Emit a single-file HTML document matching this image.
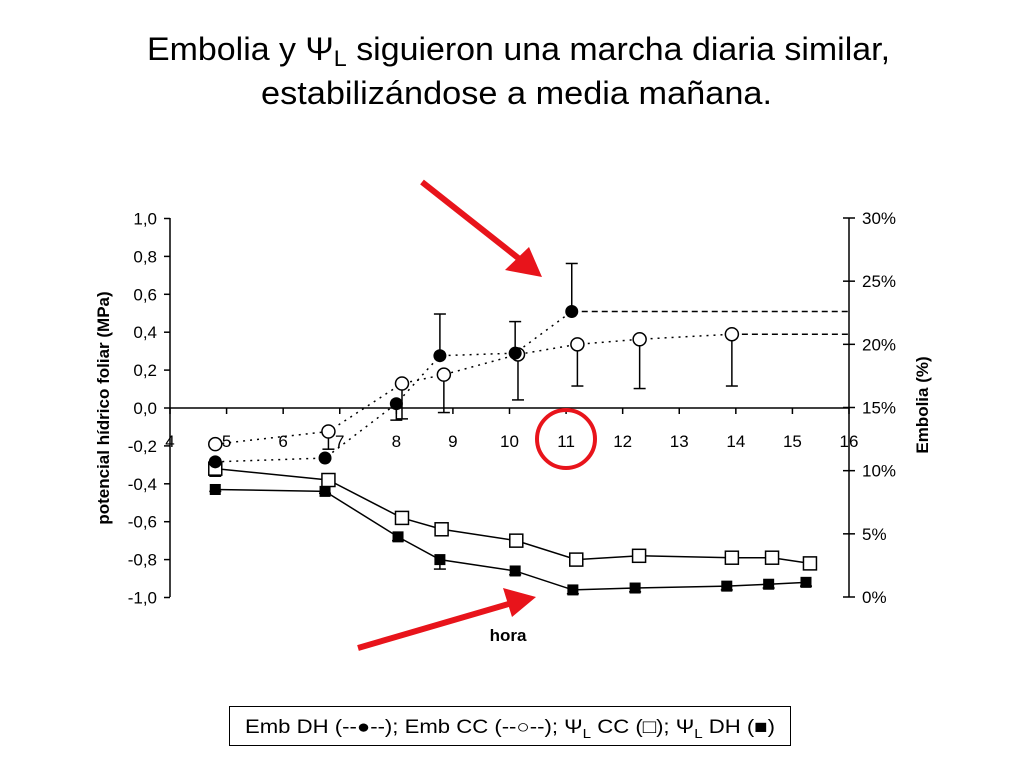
<!DOCTYPE html>
<html><head><meta charset="utf-8"><style>
body{margin:0;background:#fff;}
svg{display:block;font-family:"Liberation Sans",Arial,sans-serif;}
</style></head><body>
<svg id="c" width="1024" height="768" viewBox="0 0 1024 768">
<text x="147" y="60" font-size="32" textLength="743" lengthAdjust="spacingAndGlyphs">Embolia y Ψ<tspan font-size="22" dy="6">L</tspan><tspan dy="-6"> siguieron una marcha diaria similar,</tspan></text>
<text x="261" y="104" font-size="32" textLength="511" lengthAdjust="spacingAndGlyphs">estabilizándose a media mañana.</text>
<g id="axes"></g>
<g id="marks"></g>
<text transform="translate(109,408) rotate(-90)" text-anchor="middle" font-size="17" font-weight="bold">potencial hídrico foliar (MPa)</text>
<text transform="translate(928,405) rotate(-90)" text-anchor="middle" font-size="17" font-weight="bold">Embolia (%)</text>
<text x="508" y="641" text-anchor="middle" font-size="17" font-weight="bold">hora</text>
<g>
<line x1="422" y1="182" x2="522" y2="261" stroke="#e8141b" stroke-width="6"/>
<polygon points="542,277 505,270 529,247" fill="#e8141b"/>
</g>
<g>
<line x1="358" y1="648" x2="512" y2="603" stroke="#e8141b" stroke-width="6"/>
<polygon points="536,597 503,588 512,617" fill="#e8141b"/>
</g>
<circle cx="566" cy="439" r="29" fill="none" stroke="#e8141b" stroke-width="4"/>
<rect x="229.5" y="706.5" width="561" height="39" fill="#fff" stroke="#000" stroke-width="1"/>
<text x="510" y="733" text-anchor="middle" font-size="19" textLength="530" lengthAdjust="spacingAndGlyphs">Emb DH (--●--); Emb CC (--○--); Ψ<tspan font-size="13" dy="5">L</tspan><tspan dy="-5"> CC (□); Ψ</tspan><tspan font-size="13" dy="5">L</tspan><tspan dy="-5"> DH (■)</tspan></text>
</svg>
<script>
const hours = [4.8, 6.8, 8.1, 8.8, 10.12, 11.18, 12.29, 13.93, 14.64, 15.31];
const hoursDH = [4.8, 6.74, 8.03, 8.77, 10.1, 11.12, 12.22, 13.84, 14.58, 15.24];
const psiCC = [-0.32, -0.38, -0.58, -0.64, -0.70, -0.80, -0.78, -0.79, -0.79, -0.82];
const psiCCerr = [0.04, 0.02, 0.02, 0.03, 0.02, 0.01, 0.01, 0.02, 0.01, 0.02];
const psiDH = [-0.43, -0.44, -0.68, -0.80, -0.86, -0.96, -0.95, -0.94, -0.93, -0.92];
const psiDHerr = [0.01, 0.01, 0.02, 0.05, 0.02, 0.02, 0.02, 0.02, 0.02, 0.02];
const embHours = [4.8, 6.74, 8.0, 8.77, 10.1, 11.1];
const embDH = [10.7, 11.0, 15.3, 19.1, 19.3, 22.6];
const embDHerrUp = [0, 0, 0, 3.3, 2.5, 3.8];
const embDHerrDn = [0, 0, 1.3, 0, 0, 0];
const embCCHours = [4.8, 6.8, 8.1, 8.84, 10.15, 11.2, 12.3, 13.93];
const embCC = [12.1, 13.1, 16.9, 17.6, 19.2, 20.0, 20.4, 20.8];
const embCCerrDn = [0, 1.4, 2.8, 3.0, 3.6, 3.3, 3.9, 4.1];
const xTicks = [4,5,6,7,8,9,10,11,12,13,14,15,16];
const yTicks = [1.0,0.8,0.6,0.4,0.2,0.0,-0.2,-0.4,-0.6,-0.8,-1.0];
const rTicks = [30,25,20,15,10,5,0];

const NS='http://www.w3.org/2000/svg';
const X=h=>170+(h-4)*(679/12);
const Y=v=>408-v*189.5;
const R=p=>597-p*(379/30);
const ax=document.getElementById('axes'), mk=document.getElementById('marks');
function el(parent,tag,attrs){const e=document.createElementNS(NS,tag);for(const k in attrs)e.setAttribute(k,attrs[k]);parent.appendChild(e);return e;}

let e;
e=el(ax,'line',{x1:170,y1:218,x2:170,y2:597,stroke:'#000','stroke-width':1.5});


e=el(ax,'line',{x1:849,y1:218,x2:849,y2:597,stroke:'#000','stroke-width':1.5});


e=el(ax,'line',{x1:170,y1:408,x2:849,y2:408,stroke:'#000','stroke-width':1.5});


yTicks.forEach(v=>{
  el(ax,'line',{x1:164,y1:Y(v),x2:170,y2:Y(v),stroke:'#000','stroke-width':1.5});
  e=el(ax,'text',{x:157,y:Y(v)+6,'text-anchor':'end','font-size':17});
  e.textContent=v.toFixed(1).replace('.',',');
  
  
});
rTicks.forEach(v=>{
  el(ax,'line',{x1:843,y1:R(v),x2:855,y2:R(v),stroke:'#000','stroke-width':1.5});
  e=el(ax,'text',{x:862,y:R(v)+6,'font-size':17});
  e.textContent=v+'%';
  
  
});
xTicks.forEach(v=>{
  el(ax,'line',{x1:X(v),y1:408,x2:X(v),y2:414,stroke:'#000','stroke-width':1.5});
  e=el(ax,'text',{x:X(v),y:447,'text-anchor':'middle','font-size':17});
  e.textContent=v;
  
  
});

function poly(xs,ys,fx,fy,dash,name){
  const pts=xs.map((h,i)=>X(h)+','+fy(ys[i])).join(' ');
  const p=el(mk,'polyline',{points:pts,fill:'none',stroke:'#000','stroke-width':1.5});
  if(dash)p.setAttribute('stroke-dasharray',dash);
  
  
}
function ebar(x,y1,y2){
  el(mk,'line',{x1:x,y1:y1,x2:x,y2:y2,stroke:'#000','stroke-width':1.5});
  el(mk,'line',{x1:x-6,y1:y2,x2:x+6,y2:y2,stroke:'#000','stroke-width':1.5});
}
e=el(mk,'line',{x1:X(embHours[embHours.length-1]),y1:R(embDH[embDH.length-1]),x2:849,y2:R(embDH[embDH.length-1]),stroke:'#000','stroke-width':1.5,'stroke-dasharray':'6,4'});


e=el(mk,'line',{x1:X(embCCHours[embCCHours.length-1]),y1:R(embCC[embCC.length-1]),x2:849,y2:R(embCC[embCC.length-1]),stroke:'#000','stroke-width':1.5,'stroke-dasharray':'6,4'});



poly(hours,psiCC,X,Y,null,'psi-cc-line');
poly(hoursDH,psiDH,X,Y,null,'psi-dh-line');
poly(embHours,embDH,X,R,'2,5','emb-dh-line');
poly(embCCHours,embCC,X,R,'2,5','emb-cc-line');

hoursDH.forEach((h,i)=>{
  ebar(X(h),Y(psiDH[i]),Y(psiDH[i]-psiDHerr[i]));
  e=el(mk,'rect',{x:X(h)-5.5,y:Y(psiDH[i])-5.5,width:11,height:11,fill:'#000'});
  
  
});
hours.forEach((h,i)=>{
  ebar(X(h),Y(psiCC[i]),Y(psiCC[i]-psiCCerr[i]));
  e=el(mk,'rect',{x:X(h)-6.5,y:Y(psiCC[i])-6.5,width:13,height:13,fill:'#fff',stroke:'#000','stroke-width':1.5});
  
  
});
embHours.forEach((h,i)=>{
  if(embDHerrUp[i]>0)ebar(X(h),R(embDH[i]),R(embDH[i]+embDHerrUp[i]));
  if(embDHerrDn[i]>0)ebar(X(h),R(embDH[i]),R(embDH[i]-embDHerrDn[i]));
});
embCCHours.forEach((h,i)=>{
  if(embCCerrDn[i]>0)ebar(X(h),R(embCC[i]),R(embCC[i]-embCCerrDn[i]));
  e=el(mk,'circle',{cx:X(h),cy:R(embCC[i]),r:6.5,fill:'#fff',stroke:'#000','stroke-width':1.5});
  
  
});
embHours.forEach((h,i)=>{
  e=el(mk,'circle',{cx:X(h),cy:R(embDH[i]),r:6.5,fill:'#000'});
  
  
});
</script>
</body></html>
